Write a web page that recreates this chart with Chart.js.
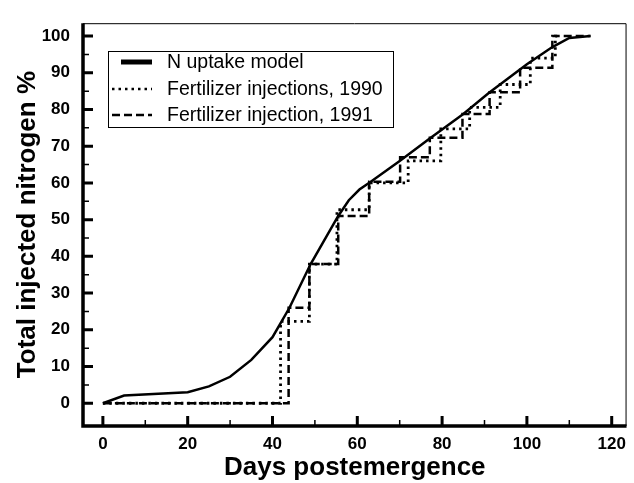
<!DOCTYPE html>
<html>
<head>
<meta charset="utf-8">
<script src="https://cdn.jsdelivr.net/npm/chart.js@4"></script>
<style>
  html, body { margin: 0; padding: 0; background: #fff; }
  canvas { display: block; }
</style>
</head>
<body>
<canvas id="nChart" width="634" height="483"></canvas>
<script>
// N uptake model (solid curve)
const modelDays = [0, 5, 20, 25, 30, 35, 40, 44, 49, 55.5, 58, 60.5, 63, 70, 77, 85, 91, 100, 106, 110, 115];
const modelPct  = [0, 2.1, 3, 4.6, 7.2, 11.8, 18, 26, 37.9, 51, 55.3, 58.2, 60.2, 66, 72, 78.8, 84.5, 92.3, 97, 99.5, 100];

// Fertilizer injections, 1990 (dotted steps)
const inj1990Days = [0, 41.9, 48.7, 55.2, 62.8, 72, 79.7, 86.5, 93.7, 100.8, 106.7, 108];
const inj1990Pct  = [0, 22.3, 37.9, 52.7, 60, 66, 74.7, 80.6, 86.8, 94, 100, 100];

// Fertilizer injection, 1991 (dashed steps)
const inj1991Days = [0, 43.8, 48.7, 55.5, 62.8, 70.1, 77.1, 84.8, 91.2, 98.4, 106, 115];
const inj1991Pct  = [0, 26, 37.9, 51, 60.3, 67, 72.3, 78.8, 84.7, 91.4, 100, 100];

const xTicks = [0, 20, 40, 60, 80, 100, 120];
const xMinorTicks = [10, 30, 50, 70, 90, 110];
const yTicks = [0, 10, 20, 30, 40, 50, 60, 70, 80, 90, 100];
const yMinorTicks = [5, 15, 25, 35, 45, 55, 65, 75, 85, 95];

const toPoints = (xs, ys) => xs.map((x, i) => ({ x: x, y: ys[i] }));

// axis frame, inward ticks and the boxed legend
const framePlugin = {
    id: "frame",
    afterDraw(chart) {
        const ctx = chart.ctx;
        const area = chart.chartArea;
        const xs = chart.scales.x;
        const ys = chart.scales.y;
        ctx.save();
        ctx.strokeStyle = "#000";

        // thin top/right border
        ctx.lineWidth = 1;
        ctx.beginPath();
        ctx.moveTo(area.left, area.top + 0.5);
        ctx.lineTo(area.right - 0.5, area.top + 0.5);
        ctx.lineTo(area.right - 0.5, area.bottom);
        ctx.stroke();

        // thick left/bottom axes
        ctx.lineWidth = 3.5;
        ctx.beginPath();
        ctx.moveTo(area.left, area.top);
        ctx.lineTo(area.left, area.bottom);
        ctx.lineTo(area.right, area.bottom);
        ctx.stroke();

        const tick = (vals, len, w, horiz) => {
            ctx.lineWidth = w;
            ctx.beginPath();
            vals.forEach(v => {
                if (horiz) {
                    const px = xs.getPixelForValue(v);
                    ctx.moveTo(px, area.bottom);
                    ctx.lineTo(px, area.bottom - len);
                } else {
                    const py = ys.getPixelForValue(v);
                    ctx.moveTo(area.left, py);
                    ctx.lineTo(area.left + len, py);
                }
            });
            ctx.stroke();
        };
        tick(xTicks, 10, 3, true);
        tick(xMinorTicks, 6, 1.5, true);
        tick(yTicks, 10, 3, false);
        tick(yMinorTicks, 6, 1.5, false);

        // legend
        const lx = 108, ly = 51, lw = 285, lh = 76;
        ctx.lineWidth = 1;
        ctx.strokeRect(lx + 0.5, ly + 0.5, lw, lh);
        ctx.font = "19.5px 'Liberation Sans', Arial, sans-serif";
        ctx.fillStyle = "#000";
        ctx.textBaseline = "middle";
        const rows = [62, 89, 115];
        chart.data.datasets.forEach((ds, i) => {
            const y = rows[i];
            ctx.lineWidth = i === 0 ? 5 : 2.5;
            ctx.setLineDash(ds.borderDash || []);
            ctx.beginPath();
            ctx.moveTo(i === 0 ? 121 : 112, y);
            ctx.lineTo(152, y);
            ctx.stroke();
            ctx.setLineDash([]);
            ctx.fillText(ds.label, 167, y + 1);
        });
        ctx.restore();
    }
};

new Chart(document.getElementById("nChart").getContext("2d"), {
    type: "line",
    data: {
        datasets: [
            {
                label: "N uptake model",
                data: toPoints(modelDays, modelPct),
                borderColor: "#000",
                borderWidth: 2.5,
                pointRadius: 0,
                tension: 0,
            },
            {
                label: "Fertilizer injections, 1990",
                data: toPoints(inj1990Days, inj1990Pct),
                borderColor: "#000",
                borderWidth: 2.8,
                borderDash: [2.5, 4],
                pointRadius: 0,
                stepped: true,
            },
            {
                label: "Fertilizer injection, 1991",
                data: toPoints(inj1991Days, inj1991Pct),
                borderColor: "#000",
                borderWidth: 2.5,
                borderDash: [8, 4],
                pointRadius: 0,
                stepped: true,
            },
        ],
    },
    options: {
        responsive: false,
        animation: false,
        devicePixelRatio: 1,
        layout: { padding: { top: 18, right: 4, left: 0, bottom: 0 } },
        plugins: {
            legend: { display: false },
            tooltip: { enabled: false },
        },
        scales: {
            x: {
                type: "linear",
                min: -4.69,
                max: 123.5,
                afterBuildTicks: scale => { scale.ticks = xTicks.map(v => ({ value: v })); },
                afterFit: scale => { scale.height = 57; },
                grid: { display: false, drawTicks: false },
                border: { display: false },
                ticks: {
                    color: "#000",
                    padding: 8,
                    maxRotation: 0,
                    font: { family: "'Liberation Sans', Arial, sans-serif", size: 17, weight: "bold" },
                },
                title: {
                    display: true,
                    text: "Days postemergence",
                    color: "#000",
                    padding: { top: 0, bottom: 0 },
                    font: { family: "'Liberation Sans', Arial, sans-serif", size: 26, weight: "bold" },
                },
            },
            y: {
                type: "linear",
                min: -6.2,
                max: 103.5,
                afterBuildTicks: scale => { scale.ticks = yTicks.map(v => ({ value: v })); },
                afterFit: scale => { scale.width = 83; },
                grid: { display: false, drawTicks: false },
                border: { display: false },
                ticks: {
                    color: "#000",
                    padding: 13,
                    font: { family: "'Liberation Sans', Arial, sans-serif", size: 17, weight: "bold" },
                },
                title: {
                    display: true,
                    text: "Total injected nitrogen %",
                    color: "#000",
                    padding: { top: 12, bottom: 0 },
                    font: { family: "'Liberation Sans', Arial, sans-serif", size: 26, weight: "bold" },
                },
            },
        },
    },
    plugins: [framePlugin],
});
</script>
</body>
</html>
